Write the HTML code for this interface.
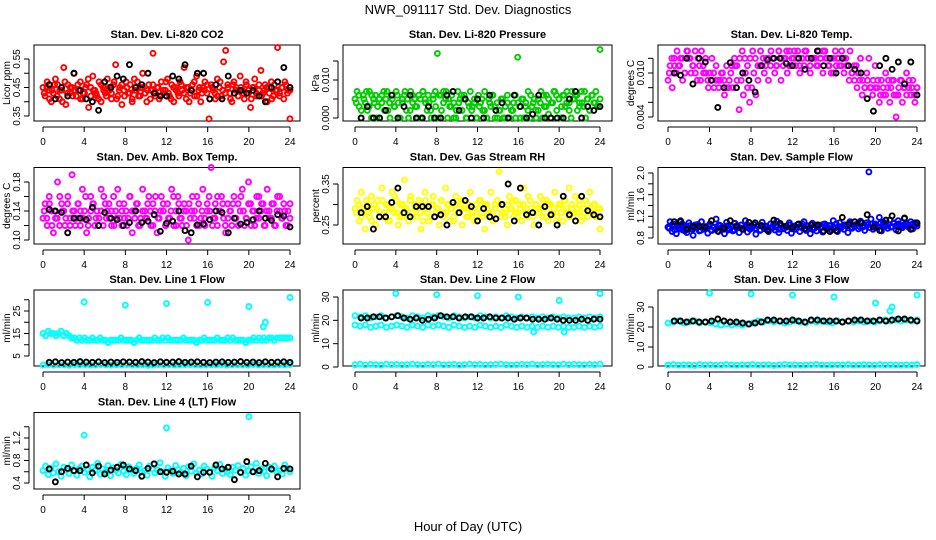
<!DOCTYPE html>
<html><head><meta charset="utf-8"><style>
html,body{margin:0;padding:0;background:#fff;}
svg{display:block;font-family:"Liberation Sans",sans-serif;}
</style></head><body>
<svg id="chart" width="936" height="540" viewBox="0 0 936 540">
<text x="468" y="14" text-anchor="middle" font-size="13">NWR_091117  Std. Dev. Diagnostics</text>
<text x="468" y="531" text-anchor="middle" font-size="13">Hour of Day (UTC)</text>
</svg>
<script>
// ---- data ----
const xTicks = [0,4,8,12,16,20,24];
const co2Main = [45,42,47,44,40,43,48,46,41,44,52,39,46,43,45,50,42,44,47,41,43,46,38,45,49,44,42,47,40,45,43,48,44,41,46,53,42,45,39,44,47,43,46,41,48,44,42,45,50,43,40,46,44,57,42,45,41,47,43,44,48,42,46,40,45,43,47,44,52,41,45,43,46,42,49,44,40,45,47,43,34,46,44,41,48,45,42,54,58,46,43,40,47,45,42,49,44,41,46,43,38,45,48,42,44,51,43,46,40,45,47,42,44,59,43,45,41,46,44,34];
const co2Main2 = [43,45,41,44,46,42,44,40,47,43,45,42,44,46,41,43,45,48,42,44,43,41,46,44,42,45,43,47,41,44,46,42,45,43,40,44,47,42,45,43,44,41,46,43,45,42,44,47,43,41,45,44,42,46,43,45,40,44,47,42,45,43,44,46,41,45,43,42,47,44,43,45,41,46,44,42,45,43,47,44,41,45,43,46,42,44,45,43,41,46,44,42,45,47,43,44];
const co2Black = [46,41,45,42,50,44,41,40,37,47,45,49,48,53,45,46,50,43,42,42,49,48,53,44,50,50,41,46,41,49,43,44,43,44,42,40,45,47,52,45];
const presMain = [5,7,3,0,6,4,2,7,0,5,6,3,0,4,7,5,2,0,6,3,7,4,0,5,6,2,0,7,4,5,3,6,0,7,5,2,4,0,6,7,17,6,2,7,5,0,3,6,4,0,7,5,2,6,0,4,7,3,5,0,6,4,2,7,0,5,3,6,0,4,2,5,0,3,6,0,2,4,0,16,3,5,0,4,2,0,3,5,0,2,4,0,3,6,1,0,4,7,2,5,0,6,3,7,4,0,5,6,2,4,7,3,0,5,2,6,4,7,3,18];
const presMain2 = [4,6,2,5,7,3,6,4,0,5,6,2,7,4,5,3,6,0,4,7,5,2,6,3,0,5,7,4,6,2,5,3,0,6,4,7,5,3,0,2,4,6,5,0,3,2,4,0,3,5,2,0,4,6,3,0,2,5,0,4,3,2,6,4,0,5,3,7,6,4,2,5,7,6,3,5,4,7,6,5,3,6,4,2,7,5,6,3,4,7,5,2,6,4,3,5];
const presBlack = [0,3,0,0,2,6,0,3,6,0,0,3,0,0,6,7,2,5,0,5,0,6,2,4,0,6,3,0,1,6,0,0,0,0,5,7,0,3,2,3];
const tempMain = [9,11,8,12,10,11,12,9,10,13,12,10,11,13,9,11,13,10,12,9,10,12,8,11,9,9,10,7,11,8,10,8,11,9,5,9,7,10,8,6,8,10,7,9,11,11,10,12,9,11,12,10,11,13,9,11,12,10,13,11,12,11,13,10,12,11,13,12,10,12,12,11,13,12,10,13,12,11,10,12,13,12,11,13,12,12,11,13,10,11,11,10,12,9,8,10,12,8,9,11,8,6,9,7,10,8,6,9,7,4,7,9,6,8,10,8,7,9,6,8];
const tempMain2 = [10,12,11,13,11,12,10,13,12,11,10,12,9,11,10,8,9,10,9,8,10,9,8,9,11,12,11,12,13,12,11,12,13,12,11,13,12,11,12,13,12,11,13,12,12,13,11,12,13,12,11,12,13,12,11,12,12,11,12,13,12,11,12,10,11,12,11,10,11,9,10,9,8,9,7,8,9,8,7,8,9,7,8,7,9,8,9,7,8,9,8,7,9,8,7,8];
const tempBlack = [10,9.7,12,8.5,12,11.5,9,5.3,8,11.4,8,10,9,7.4,11,11.8,12,12,11.3,11,12,10.5,12,13,11,12,10,12,11,10.5,10,6.5,4.8,11,12,10.5,11.5,8.5,11.5,7];
const ambMain = [13,15,12,16,14,11,13,18,12,15,14,13,16,12,19,14,13,15,12,17,14,11,13,16,15,12,14,13,17,12,15,14,13,12,16,14,17,13,12,15,14,13,16,11,14,15,12,13,17,14,13,16,12,15,14,11,13,16,14,12,15,13,17,12,14,16,13,12,15,14,10,13,16,14,12,15,13,17,12,14,16,20,13,15,12,14,16,13,11,15,14,12,16,13,15,14,17,12,13,18,15,14,12,16,13,14,15,12,17,14,13,15,12,16,14,13,15,12,14,13];
const ambMain2 = [14,13,15,12,14,13,16,14,12,15,13,14,12,15,14,13,16,12,14,15,13,12,14,16,13,15,14,12,13,15,14,13,12,16,14,13,15,12,14,13,15,14,12,16,13,14,15,12,13,14,16,12,15,13,14,12,15,14,13,16,12,14,13,15,14,12,13,16,14,15,12,13,14,15,13,12,16,14,13,15,12,14,13,16,15,12,14,13,15,12,14,16,13,14,12,15];
const ambBlack = [14.2,14,13.8,11,13,13,12.8,14.5,12,13.8,13,12.8,12,12.4,14,12.4,12.6,13.5,11.2,12.3,12.6,14,11.3,11,12.1,12.2,12.8,14,13.8,11,13,12.2,12.4,12.8,14,13,12.7,13.5,13.3,11.8];
const rhMain = [29,31,26,33,28,24,30,27,32,29,25,31,28,34,27,30,26,29,33,28,31,25,30,27,36,29,26,32,28,30,27,31,24,29,33,28,26,30,32,27,29,25,31,28,34,30,26,29,27,32,28,30,25,31,29,27,33,28,26,30,29,31,27,24,30,28,33,26,29,31,38,27,30,28,25,32,29,27,31,28,30,26,34,29,27,31,28,25,30,29,32,27,29,31,26,30,28,33,27,29,30,26,31,28,34,29,27,32,28,30,26,29,31,27,33,28,30,27,29,24];
const rhMain2 = [28,30,27,29,31,28,26,30,29,27,31,28,30,26,29,32,28,27,30,29,28,31,27,29,30,28,26,31,29,27,30,28,29,31,27,28,30,29,26,30,28,31,29,27,30,28,29,27,31,28,30,29,27,28,30,31,29,28,27,30,29,31,28,27,29,30,28,32,29,27,30,28,29,31,27,30,28,29,26,30,28,31,29,27,30,28,29,31,27,28,30,29,28,30,27,29];
const rhBlack = [28,29.5,24,27,27,30.5,34,28,27,29.5,29.5,29.5,27,27.5,25,30.5,28,31,29.5,26,29,27,26.5,30,35,26,34,27.5,28,25,29.5,27.5,25,32,27.5,26,32,28.5,27.5,27];
const flowMain = [100,110,92,105,88,98,112,95,102,90,108,97,85,104,99,93,110,96,101,89,106,94,100,115,92,103,97,88,109,95,101,93,107,99,90,104,96,112,91,100,98,105,87,102,94,109,97,100,92,106,99,95,111,90,103,97,101,94,108,89,100,96,105,92,99,110,94,102,88,107,98,93,104,100,91,106,97,103,95,112,99,92,108,101,96,104,90,110,98,102,105,97,111,100,94,108,202,115,96,106,100,118,93,109,104,98,113,101,107,95,112,103,99,116,105,100,110,97,108,102];
const flowMain2 = [98,104,95,101,97,106,93,100,103,96,99,105,94,101,98,102,95,100,97,104,99,96,102,98,101,95,103,99,97,100,104,96,101,98,103,95,100,102,97,99,105,101,96,103,98,100,104,97,102,99,101,106,98,103,100,97,104,101,99,105,102,98,103,100,106,101,99,104,102,107,100,103,105,101,108,102,104,99,106,103,101,107,104,102,105,100,108,103,106,101,104,107,102,105,103,106];
const flowBlack = [110,110,96,101,101,100,112,93,98,112,102,96,109,108,103,94,113,107,102,99,106,97,104,104,93,92,94,118,105,110,108,123,100,94,113,121,93,117,96,108];
const l1Band = [15,14,16,15,15,14,15,16,14,15,14,13,13,12,13,12,13,12,12,13,12,12,13,12,12,11,12,12,12,12,13,12,12,12,12,11,12,13,12,12,12,12,12,13,12,12,13,12,13,12,12,12,12,12,13,12,12,12,12,11,12,12,13,12,12,12,12,13,12,12,12,13,12,13,12,12,12,12,11,12,12,13,12,13,12,13,12,13,13,12,13,13,13,13,13,13];
const l1Low = [1,1.2,0.9,1.1,1,0.8,1.2,1,1.1,0.9,1,1.2,1,0.9,1.1,1,1.2,0.9,1,1.1,0.8,1,1.2,1,1.1,0.9,1,1.1,1.2,1,0.9,1,1.1,1,1.2,0.9,1,1.1,1,0.9,1.2,1,1.1,1,0.9,1.1,1,1.2];
const l1Black = [2.2,2.4,2.1,2.3,2.2,2.5,2.3,2.2,2.4,2.1,2.3,2.2,2.4,2.3,2.2,2.5,2.3,2.1,2.4,2.2,2.3,2.5,2.2,2.3,2.4,2.2,2.1,2.3,2.4,2.2,2.3,2.5,2.2,2.3,2.1,2.4,2.2,2.3,2.4,2.2];
const l1OutHour = [4,8,12,16,20,21.4,21.6,24];
const l1OutVal = [29,27.6,28.3,28.8,27,18,20,31];
const l2Band = [22,21.5,22,21,21.5,22,21,21.5,22,21.5,21,22,21.5,21,22,21.5,22,21.5,21,22,21.5,21,21.5,21,22,21.5,21,21.5,21,22,21.5,21,21.5,21,21.5,21,21.5,21,21.5,21,21.5,21,21,21.5,21,21.5,21,21.5];
const l2Mid = [18,17.5,18,17,17.5,18,17,17.5,18,17.5,17,18,17.5,17,18,17.5,18,17.5,17,18,17.5,17,17.5,17,18,17.5,17,17.5,17,18,17.5,17,17.5,17,17.5,17,17.5,17,17.5,17,17.5,17,17,17.5,17,17.5,17,17.5];
const l2Low = [1,1.2,0.9,1.1,1,0.8,1.2,1,1.1,0.9,1,1.2,1,0.9,1.1,1,1.2,0.9,1,1.1,0.8,1,1.2,1,1.1,0.9,1,1.1,1.2,1,0.9,1,1.1,1,1.2,0.9,1,1.1,1,0.9,1.2,1,1.1,1,0.9,1.1,1,1.2];
const l2Black = [21,21,21.5,21.5,21,21.5,22,21,20.5,21,20,20.5,21,22,21.5,21.5,21,21.5,21.5,21,21,21.5,21,21,21,20.5,21,21,20.5,20.5,20.5,21,20.5,20,20,20,20.5,20,20.5,20.5];
const l2OutHour = [4,8,12,16,17.5,20,20.5,24];
const l2OutVal = [31.5,31,30.5,30,15,28.5,15,31.5];
const l3Band = [22,22.5,23,22,22.5,23,22,22.5,22,21.5,21,21.5,21,21.5,21,21.5,22,23,22.5,23,22.5,23,22,22.5,23,22.5,22,23,22.5,23,22.5,22,23,22.5,23,22.5,23,22.5,23,22.5,23,23.5,23,23.5,23,23.5,23,23.5];
const l3Low = [1,1.2,0.9,1.1,1,0.8,1.2,1,1.1,0.9,1,1.2,1,0.9,1.1,1,1.2,0.9,1,1.1,0.8,1,1.2,1,1.1,0.9,1,1.1,1.2,1,0.9,1,1.1,1,1.2,0.9,1,1.1,1,0.9,1.2,1,1.1,1,0.9,1.1,1,1.2];
const l3Black = [23,23,22.5,23,22.5,22.5,23,24,23,22.5,22.5,22,21.5,22,22.5,23.5,23.5,23,23,23.5,23,22.5,23.5,23.5,23,23,23,22.5,23,23.5,23.5,23,23,23.5,23,23.5,24,24,23.5,23];
const l3OutHour = [4,8,12,16,20,21.4,21.6,24];
const l3OutVal = [37,36.5,36,35,32,28,30,36];
const l4Main = [62,70,55,66,58,74,60,52,68,63,57,72,61,54,66,70,59,64,51,68,62,75,56,65,60,71,53,67,63,58,73,61,55,69,64,57,66,72,59,62,54,70,65,58,63,76,60,52,67,62,57,71,64,59,66,53,69,61,74,58,63,56,70,65,60,52,67,62,73,57,64,60,55,68,63,71,58,66,54,62,69,60,75,57,65,61,53,68,64,70,59,62,56,72,66,60];
const l4Black = [65,42,60,66,62,62,72,58,70,56,63,68,72,65,62,52,66,74,60,59,61,56,56,70,51,59,59,72,65,68,46,59,78,60,62,75,65,51,66,65];
const l4OutHour = [4,12,20];
const l4OutVal = [125,138,158];

// ---- layout ----
const NS = 'http://www.w3.org/2000/svg';
const svg = document.getElementById('chart');
const colBox = [[34,300,43,290],[343,612,355,600],[658,925,668,917]];
const rowBox = [[45,121],[167.5,244],[290,366],[412.5,489]];

function mk(tag, attrs, parent){
  const e = document.createElementNS(NS, tag);
  for (const k in attrs) e.setAttribute(k, attrs[k]);
  (parent||svg).appendChild(e);
  return e;
}

function panel(p){
  const [L,R,x0,x24] = colBox[p.col];
  const [T,B] = rowBox[p.row];
  const g = mk('g', {});
  
  
  const xs = h => x0 + (x24 - x0) * h / 24;
  const ys = v => p.cal[1] + (v - p.cal[0]) * (p.cal[3] - p.cal[1]) / (p.cal[2] - p.cal[0]);
  const t = mk('text', {x:(L+R)/2, y:T-7, 'text-anchor':'middle', 'font-size':'11', 'font-weight':'bold'}, g);
  t.textContent = p.title;
  
  
  const box = mk('rect', {x:L, y:T, width:R-L, height:B-T, fill:'none', stroke:'#000', 'stroke-width':1}, g);
  
  
  const xa = mk('g', {}, g);
  
  
  mk('line', {x1:xs(xTicks[0]), x2:xs(xTicks[xTicks.length-1]), y1:B+6, y2:B+6, stroke:'#000'}, xa);
  xTicks.forEach(h => {
    mk('line', {x1:xs(h), x2:xs(h), y1:B+6, y2:B+11, stroke:'#000'}, xa);
    const tl = mk('text', {x:xs(h), y:B+24, 'text-anchor':'middle', 'font-size':'10'}, xa);
    tl.textContent = h;
  });
  const ya = mk('g', {}, g);
  
  
  const ax = L - 5;
  mk('line', {x1:ax, x2:ax, y1:ys(p.ticks[0]), y2:ys(p.ticks[p.ticks.length-1]), stroke:'#000'}, ya);
  p.ticks.forEach(v => mk('line', {x1:ax-5, x2:ax, y1:ys(v), y2:ys(v), stroke:'#000'}, ya));
  p.labels.forEach((lab, i) => {
    const y = ys(p.labelVals[i]);
    const tl = mk('text', {x:L-14, y:y, 'text-anchor':'middle', 'font-size':'10', transform:'rotate(-90 '+(L-14)+' '+y+')'}, ya);
    tl.textContent = lab;
  });
  const yt = mk('text', {x:L-24, y:(T+B)/2, 'text-anchor':'middle', 'font-size':'10', transform:'rotate(-90 '+(L-24)+' '+(T+B)/2+')'}, g);
  yt.textContent = p.ylab;
  
  
  p.series.forEach(s => {
    const sg = mk('g', {fill:'none', stroke:s.color, 'stroke-width':1.9}, g);
    
    
    s.vals.forEach((v, i) => {
      const h = s.hours ? s.hours[i] : (s.h0 + (24 - s.h0) * i / (s.vals.length - 1));
      const c = mk('circle', {cx:xs(h), cy:ys(v * s.scale), r:2.5}, sg);
      
      
    });
  });
}

const ser = (key, vals, color, scale, h0, hours) => ({key, vals, color, scale, h0:h0||0, hours});
const CY = '#00ffff';
panel({name:'co2', col:0,row:0,title:'Stan. Dev. Li-820 CO2', ylab:'Licor ppm', cal:[0.35,116,0.55,59],
  ticks:[0.35,0.40,0.45,0.50,0.55], labels:['0.35','0.45','0.55'], labelVals:[0.35,0.45,0.55],
  series:[ser('main',co2Main,'#ff0000',0.01), ser('main2',co2Main2,'#ff0000',0.01,0.12), ser('hourly',co2Black,'#000',0.01,0.6)]});
panel({name:'pressure', col:1,row:0,title:'Stan. Dev. Li-820 Pressure', ylab:'kPa', cal:[0,118,0.010,80],
  ticks:[0,0.005,0.010,0.015], labels:['0.000','0.010'], labelVals:[0,0.010],
  series:[ser('main',presMain,'#00cc00',0.001), ser('main2',presMain2,'#00cc00',0.001,0.12), ser('hourly',presBlack,'#000',0.001,0.6)]});
panel({name:'temp', col:2,row:0,title:'Stan. Dev. Li-820 Temp.', ylab:'degrees C', cal:[0.004,117,0.010,73],
  ticks:[0.004,0.006,0.008,0.010,0.012], labels:['0.004','0.010'], labelVals:[0.004,0.010],
  series:[ser('main',tempMain,'#ff00ff',0.001), ser('main2',tempMain2,'#ff00ff',0.001,0.12), ser('hourly',tempBlack,'#000',0.001,0.6)]});
panel({name:'amb-box', col:0,row:1,title:'Stan. Dev. Amb. Box Temp.', ylab:'degrees C', cal:[0.10,240,0.18,182],
  ticks:[0.10,0.12,0.14,0.16,0.18], labels:['0.10','0.14','0.18'], labelVals:[0.10,0.14,0.18],
  series:[ser('main',ambMain,'#ff00ff',0.01), ser('main2',ambMain2,'#ff00ff',0.01,0.12), ser('hourly',ambBlack,'#000',0.01,0.6)]});
panel({name:'rh', col:1,row:1,title:'Stan. Dev. Gas Stream RH', ylab:'percent', cal:[0.25,225,0.35,184],
  ticks:[0.25,0.30,0.35], labels:['0.25','0.35'], labelVals:[0.25,0.35],
  series:[ser('main',rhMain,'#ffff00',0.01), ser('main2',rhMain2,'#ffff00',0.01,0.12), ser('hourly',rhBlack,'#000',0.01,0.6)]});
panel({name:'sample-flow', col:2,row:1,title:'Stan. Dev. Sample Flow', ylab:'ml/min', cal:[0.8,238,2.0,173],
  ticks:[0.8,1.0,1.2,1.4,1.6,1.8,2.0], labels:['0.8','1.2','1.6','2.0'], labelVals:[0.8,1.2,1.6,2.0],
  series:[ser('main',flowMain,'#0000ff',0.01), ser('main2',flowMain2,'#0000ff',0.01,0.12), ser('hourly',flowBlack,'#000',0.01,0.6)]});
panel({name:'line1', col:0,row:2,title:'Stan. Dev. Line 1 Flow', ylab:'ml/min', cal:[5,356,25,311],
  ticks:[5,10,15,20,25,30], labels:['5','15','25'], labelVals:[5,15,25],
  series:[ser('band',l1Band,CY,1), ser('low',l1Low,CY,1), ser('outliers',l1OutVal,CY,1,0,l1OutHour), ser('hourly',l1Black,'#000',1,0.6)]});
panel({name:'line2', col:1,row:2,title:'Stan. Dev. Line 2 Flow', ylab:'ml/min', cal:[0,367,30,297],
  ticks:[0,10,20,30], labels:['0','10','20','30'], labelVals:[0,10,20,30],
  series:[ser('band',l2Band,CY,1), ser('mid',l2Mid,CY,1), ser('low',l2Low,CY,1), ser('outliers',l2OutVal,CY,1,0,l2OutHour), ser('hourly',l2Black,'#000',1,0.6)]});
panel({name:'line3', col:2,row:2,title:'Stan. Dev. Line 3 Flow', ylab:'ml/min', cal:[0,367,30,307],
  ticks:[0,10,20,30], labels:['0','10','20','30'], labelVals:[0,10,20,30],
  series:[ser('band',l3Band,CY,1), ser('low',l3Low,CY,1), ser('outliers',l3OutVal,CY,1,0,l3OutHour), ser('hourly',l3Black,'#000',1,0.6)]});
panel({name:'line4', col:0,row:3,title:'Stan. Dev. Line 4 (LT) Flow', ylab:'ml/min', cal:[0.4,483,1.2,438],
  ticks:[0.4,0.6,0.8,1.0,1.2,1.4], labels:['0.4','0.8','1.2'], labelVals:[0.4,0.8,1.2],
  series:[ser('main',l4Main,CY,0.01), ser('outliers',l4OutVal,CY,0.01,0,l4OutHour), ser('hourly',l4Black,'#000',0.01,0.6)]});
</script>
</body></html>
